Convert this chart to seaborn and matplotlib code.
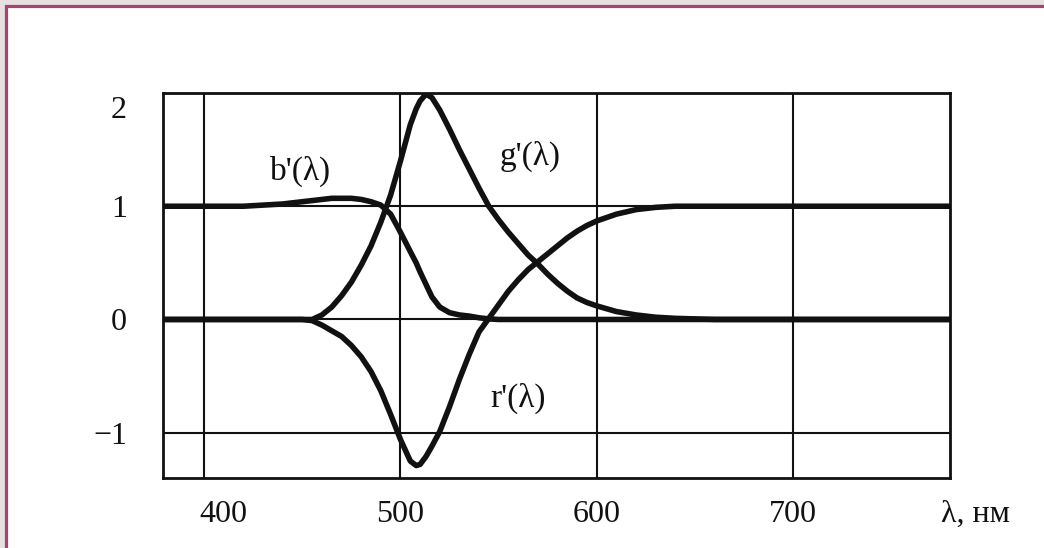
import matplotlib
matplotlib.use("Agg")
import matplotlib.pyplot as plt
import matplotlib.transforms as mtransforms
from matplotlib.patches import Rectangle
import pandas as pd
import seaborn as sns

# ── data ─────────────────────────────────────────────────────────────────────
wavelength = [379, 400, 420, 440, 450, 455, 460, 465, 470, 475, 480, 485, 490,
              495, 500, 505, 508, 510, 513, 516, 520, 525, 530, 535, 540, 545,
              550, 555, 560, 565, 570, 575, 580, 585, 590, 595, 600, 610, 620,
              630, 640, 660, 700, 740, 780]

b_prime = [1.00, 1.00, 1.00, 1.02, 1.04, 1.05, 1.06, 1.07, 1.07, 1.07, 1.06,
           1.04, 1.01, 0.93, 0.77, 0.60, 0.50, 0.42, 0.31, 0.20, 0.11, 0.06,
           0.04, 0.03, 0.015, 0.005, 0.0, 0.0, 0.0, 0.0, 0.0, 0.0, 0.0, 0.0,
           0.0, 0.0, 0.0, 0.0, 0.0, 0.0, 0.0, 0.0, 0.0, 0.0, 0.0]

g_prime = [0.0, 0.0, 0.0, 0.0, 0.0, 0.0, 0.04, 0.11, 0.21, 0.33, 0.48, 0.65,
           0.86, 1.10, 1.40, 1.72, 1.86, 1.93, 1.99, 1.96, 1.85, 1.68, 1.50,
           1.33, 1.16, 1.00, 0.88, 0.77, 0.67, 0.57, 0.49, 0.40, 0.32, 0.25,
           0.19, 0.15, 0.12, 0.07, 0.04, 0.02, 0.01, 0.0, 0.0, 0.0, 0.0]

r_prime = [0.0, 0.0, 0.0, 0.0, 0.0, -0.01, -0.05, -0.10, -0.15, -0.23, -0.33,
           -0.46, -0.63, -0.84, -1.06, -1.25, -1.29, -1.28, -1.21, -1.12,
           -0.99, -0.77, -0.53, -0.31, -0.11, 0.01, 0.13, 0.25, 0.35, 0.44,
           0.51, 0.58, 0.65, 0.72, 0.78, 0.83, 0.87, 0.93, 0.97, 0.99, 1.0,
           1.0, 1.0, 1.0, 1.0]

curve_labels = ["b'(λ)", "g'(λ)", "r'(λ)"]
label_pos = [(449, 1.31), (566, 1.44), (560, -0.70)]
x_ticks = [400, 500, 600, 700]
y_ticks = [-1, 0, 1, 2]
y_tick_text = ["\u22121", "0", "1", "2"]

df = pd.concat([
    pd.DataFrame({"wl": wavelength, "val": b_prime, "curve": "b"}),
    pd.DataFrame({"wl": wavelength, "val": g_prime, "curve": "g"}),
    pd.DataFrame({"wl": wavelength, "val": r_prime, "curve": "r"}),
])

sns.set_theme(style="white")
plt.rcParams["font.family"] = ["Liberation Serif", "DejaVu Serif"]

fig = plt.figure(figsize=(10.44, 5.48), dpi=100)
fig.patch.set_facecolor("#e7dfe0")
# white page with the maroon frame of the scan
fig.patches.append(Rectangle((5.5 / 1044, -0.05), 1.1, 1.05 - 6 / 548,
                             transform=fig.transFigure, facecolor="white",
                             edgecolor="#a3456f", linewidth=2.3, zorder=-5))

ax = fig.add_axes([163 / 1044, 1 - 478 / 548, 787 / 1044, 385 / 548])
ax.set_zorder(2)
ax.set_facecolor("white")

sns.lineplot(data=df, x="wl", y="val", hue="curve", units="curve",
             estimator=None, sort=False,
             palette={"b": "#111111", "g": "#111111", "r": "#111111"},
             linewidth=4.0, legend=False, ax=ax, zorder=3)

ax.set_xlim(379, 780)
ax.set_ylim(-1.4, 2.0)
ax.set_xticks(x_ticks)
ax.set_yticks(y_ticks)
ax.set_yticklabels(y_tick_text)
ax.set_xlabel("")
ax.set_ylabel("")
ax.grid(True, color="#111111", linewidth=1.5, zorder=1)
ax.set_axisbelow(True)
for s in ax.spines.values():
    s.set_color("#111111")
    s.set_linewidth(2.0)
ax.tick_params(axis="both", length=0, labelsize=23, colors="#111111")
ax.tick_params(axis="y", pad=26)
ax.tick_params(axis="x", pad=16)

# in the scan "2" sits under its line and "400" is pushed off the frame corner
for lab in ax.get_yticklabels():
    if lab.get_text() == "2":
        lab.set_transform(lab.get_transform() +
                          mtransforms.ScaledTranslation(0, -10 / 72, fig.dpi_scale_trans))
for lab in ax.get_xticklabels():
    if lab.get_text() == "400":
        lab.set_transform(lab.get_transform() +
                          mtransforms.ScaledTranslation(14 / 72, 0, fig.dpi_scale_trans))

for txt, (lx, ly) in zip(curve_labels, label_pos):
    ax.text(lx, ly, txt, fontsize=24, ha="center", va="center", color="#111111")

fig.text(975 / 1044, 1 - 514 / 548, "λ, нм", fontsize=23, ha="center",
         va="center", color="#111111")

fig.savefig("out.png", dpi=100, facecolor=fig.get_facecolor())
